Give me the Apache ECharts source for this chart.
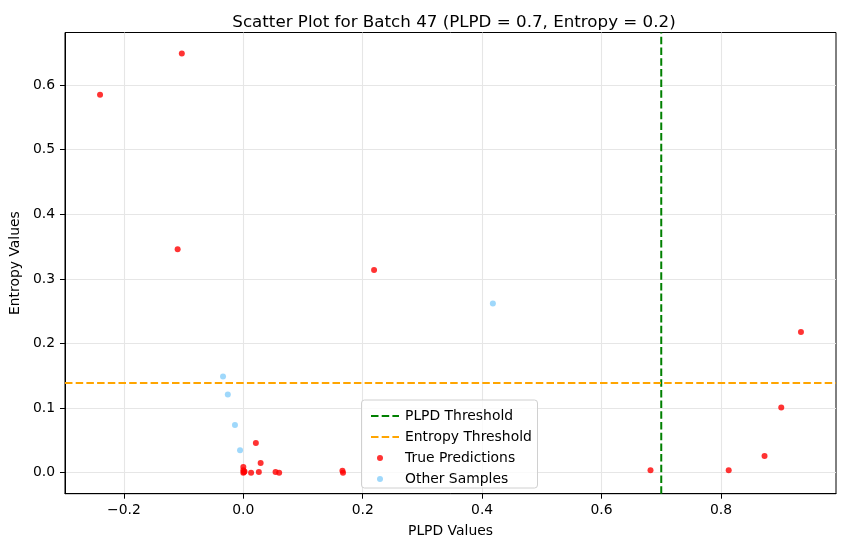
<!DOCTYPE html>
<html>
<head>
<meta charset="utf-8">
<script src="https://cdn.jsdelivr.net/npm/echarts@6/dist/echarts.min.js"></script>
<style>
html,body{margin:0;padding:0;background:#fff;}
#chart{width:846px;height:547px;}
</style>
</head>
<body>
<div id="chart"></div>
<script>
// ---- data ----
const trueX = [-0.240, -0.103, -0.110, 0.219, 0.934, 0.901, 0.873, 0.813, 0.682,
               0.021, 0.029, 0.000, 0.000, 0.001, 0.000, 0.002, 0.013, 0.026, 0.054, 0.060, 0.166, 0.167];
const trueY = [0.585, 0.649, 0.346, 0.314, 0.218, 0.101, 0.026, 0.004, 0.004,
               0.046, 0.015, 0.009, 0.004, 0.001, 0.000, 0.002, 0.000, 0.001, 0.001, 0.000, 0.003, 0.000];
const otherX = [-0.034, -0.026, -0.014, -0.0055, 0.418];
const otherY = [0.149, 0.121, 0.074, 0.035, 0.262];
const plpdThreshold = 0.7;
const entropyThreshold = 0.139;
const xTicks = [-0.2, 0.0, 0.2, 0.4, 0.6, 0.8];
const yTicks = [0.0, 0.1, 0.2, 0.3, 0.4, 0.5, 0.6];
const titleText = 'Scatter Plot for Batch 47 (PLPD = 0.7, Entropy = 0.2)';

// axis limits like matplotlib's 5% margins
const allX = trueX.concat(otherX), allY = trueY.concat(otherY);
const xmn = Math.min(...allX), xmx = Math.max(...allX);
const ymn = Math.min(...allY), ymx = Math.max(...allY);
const xMin = xmn - 0.05 * (xmx - xmn), xMax = xmx + 0.05 * (xmx - xmn);
const yMin = ymn - 0.05 * (ymx - ymn), yMax = ymx + 0.05 * (ymx - ymn);

const zip = (a, b) => a.map((v, i) => [v, b[i]]);
const FONT = 'DejaVu Sans';
const fmt = v => v.toFixed(1).replace('-', '\u2212');

const chart = echarts.init(document.getElementById('chart'), null, {renderer: 'canvas'});
const gridCol = '#e6e6e6';
chart.setOption({
  animation: false,
  backgroundColor: '#fff',
  textStyle: {fontFamily: FONT},
  title: {
    text: titleText, left: 449, top: 9, textAlign: 'center',
    textStyle: {fontFamily: FONT, fontSize: 16.7, fontWeight: 'normal', color: '#000'}
  },
  grid: {left: 61.5, right: 10, top: 32.5, bottom: 53.3, show: true, borderColor: '#000', borderWidth: 1, containLabel: false},
  xAxis: {
    type: 'value', min: xMin, max: xMax,
    name: 'PLPD Values', nameLocation: 'middle', nameGap: 31,
    nameTextStyle: {fontFamily: FONT, fontSize: 13.9, color: '#000'},
    axisLine: {show: true, onZero: false, lineStyle: {color: '#000', width: 1}},
    axisTick: {show: true, length: 5, lineStyle: {color: '#000'}, customValues: xTicks},
    axisLabel: {fontFamily: FONT, fontSize: 13.9, color: '#000', margin: 10, customValues: xTicks, formatter: fmt},
    splitLine: {show: true, lineStyle: {color: gridCol, width: 1.1}}
  },
  yAxis: {
    type: 'value', min: yMin, max: yMax,
    name: 'Entropy Values', nameLocation: 'middle', nameGap: 33, nameRotate: 90,
    nameTextStyle: {fontFamily: FONT, fontSize: 13.9, color: '#000'},
    axisLine: {show: true, onZero: false, lineStyle: {color: '#000', width: 1}},
    axisTick: {show: true, length: 5, lineStyle: {color: '#000'}, customValues: yTicks},
    axisLabel: {fontFamily: FONT, fontSize: 13.9, color: '#000', margin: 10, customValues: yTicks, formatter: fmt},
    splitLine: {show: true, lineStyle: {color: gridCol, width: 1.1}}
  },
  legend: [{
    orient: 'vertical', left: 365, top: 404, itemWidth: 28, itemHeight: 14, itemGap: 7, z: 20,
    data: ['PLPD Threshold', 'Entropy Threshold'],
    itemStyle: {opacity: 0},
    textStyle: {fontFamily: FONT, fontSize: 13.9, color: '#000', lineHeight: 14, padding: [0, 0, 0, 1]}
  }, {
    orient: 'vertical', left: 372, top: 446, itemWidth: 28, itemHeight: 6, itemGap: 7, z: 20,
    data: [{name: 'True Predictions', icon: 'circle'}, {name: 'Other Samples', icon: 'circle'}],
    textStyle: {fontFamily: FONT, fontSize: 13.9, color: '#000', lineHeight: 14, padding: [0, 0, 0, 6]}
  }],
  graphic: [{
    type: 'rect', left: 361, top: 399.5, z: 1,
    shape: {width: 176, height: 88, r: 3},
    style: {fill: 'rgba(255,255,255,0.8)', stroke: '#d0d0d0', lineWidth: 1}
  }],
  series: [
    {
      name: 'True Predictions', type: 'scatter', symbol: 'circle', symbolSize: 6, z: 3,
      itemStyle: {color: '#ff0000', opacity: 0.8},
      data: zip(trueX, trueY)
    },
    {
      name: 'Other Samples', type: 'scatter', symbol: 'circle', symbolSize: 6, z: 3,
      itemStyle: {color: '#87CEFA', opacity: 0.8},
      data: zip(otherX, otherY)
    },
    {
      name: 'PLPD Threshold', type: 'line', symbol: 'none', z: 4,
      itemStyle: {color: '#008000'},
      lineStyle: {color: '#008000', width: 2, type: [7.5, 3.2]},
      data: [[plpdThreshold, yMin], [plpdThreshold, yMax]]
    },
    {
      name: 'Entropy Threshold', type: 'line', symbol: 'none', z: 5,
      itemStyle: {color: '#FFA500'},
      lineStyle: {color: '#FFA500', width: 2, type: [7.5, 3.2]},
      data: [[xMin, entropyThreshold], [xMax, entropyThreshold]]
    }
  ]
});
</script>
</body>
</html>
